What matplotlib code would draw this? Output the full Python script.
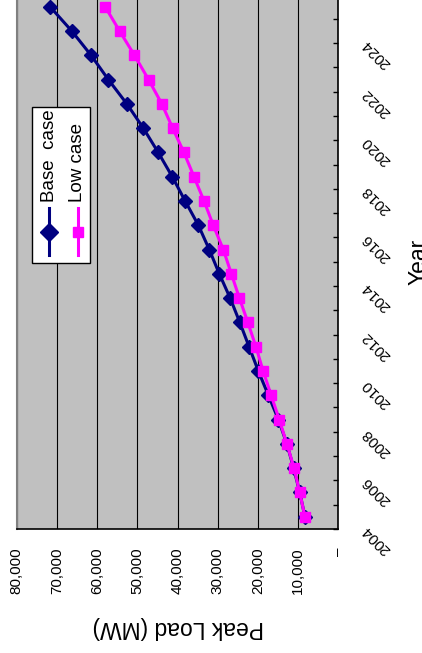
import matplotlib
matplotlib.use("Agg")
import matplotlib.pyplot as plt
import numpy as np
from matplotlib.patches import Rectangle
from matplotlib.lines import Line2D
from matplotlib.transforms import ScaledTranslation, blended_transform_factory

plt.rcParams['font.family'] = ['Liberation Sans', 'DejaVu Sans']

# Peak load forecast (MW)
years = list(range(2004, 2026))
base_case = [8300, 9600, 11100, 12800, 14900, 17400, 19900, 22200, 24500, 26900, 29600,
             32100, 34800, 38100, 41300, 44800, 48500, 52600, 57200, 61500, 66300, 71700]
low_case = [8300, 9600, 11000, 12800, 14700, 16700, 18700, 20500, 22500, 24600, 26600,
            28600, 31100, 33400, 35900, 38400, 41200, 43900, 47200, 50700, 54400, 58000]
load_ticks = [0, 10000, 20000, 30000, 40000, 50000, 60000, 70000, 80000]
year_labels = years[::2]

W, H = 422, 653
NAVY = "#000080"
MAGENTA = "#FF00FF"


def px(x, y):
    # pixel position (origin top-left) -> figure fraction
    return x / W, 1 - y / H


fig = plt.figure(figsize=(W / 100, H / 100), dpi=100)
fig.patch.set_facecolor("white")

# chart is laid out sideways: load runs right-to-left, years bottom-to-top
ax = fig.add_axes([16.7 / W, (H - 528.8) / H, (338.3 - 16.7) / W, (528.8 + 5.4) / H])
ax.set_facecolor("#C0C0C0")
ax.set_xlim(80000, 0)
ax.set_ylim(2003.5, 2025.5)

ax.plot(base_case, years, color=NAVY, lw=2.2, marker="D", ms=7.5,
        markerfacecolor=NAVY, markeredgecolor=NAVY, zorder=3)
ax.plot(low_case, years, color=MAGENTA, lw=2.2, marker="s", ms=6.7,
        markerfacecolor=MAGENTA, markeredgecolor=MAGENTA, zorder=4)

# value axis
ax.set_xticks(load_ticks)
ax.set_xticklabels(["\u2013" if v == 0 else f"{v:,}" for v in load_ticks], rotation=90, fontsize=11)
ax.tick_params(axis="x", length=0, pad=13.7)
ax.grid(axis="x", color="black", lw=0.8, zorder=1)

# category axis: tick marks between years on the right edge
ax.set_yticks(np.arange(2003.5, 2026, 1.0))
ax.tick_params(axis="y", left=False, right=True, direction="in", length=3.6, width=1,
               labelleft=False, labelright=False, color="black")

trans = blended_transform_factory(ax.transAxes, ax.transData) + \
    ScaledTranslation(0.377, -0.23, fig.dpi_scale_trans)
for yr in year_labels:
    ax.text(1, yr, str(yr), transform=trans, rotation=135, rotation_mode="anchor",
            ha="center", va="center", fontsize=11, clip_on=False)

for side in ["top"]:
    ax.spines[side].set_visible(False)
ax.spines["left"].set_color("#808080")
ax.spines["left"].set_linewidth(1.5)
ax.spines["right"].set_color("black")
ax.spines["right"].set_linewidth(1.2)
ax.spines["bottom"].set_color("black")
ax.spines["bottom"].set_linewidth(1.2)

# axis titles
fig.text(*px(178, 627), "Peak Load (MW)", rotation=180, ha="center", va="center", fontsize=16.5)
fig.text(*px(426, 262), "Year", rotation=90, rotation_mode="anchor",
         ha="center", va="baseline", fontsize=16.5)

# legend box
x0, y1 = px(31.7, 263)
x1, y0 = px(90, 106.7)
fig.patches.append(Rectangle((x0, y1), x1 - x0, y0 - y1, transform=fig.transFigure,
                             facecolor="white", edgecolor="black", lw=1, zorder=5))
for xc, label, color, marker, ms in [(49, "Base  case", NAVY, "D", 9.5),
                                      (78, "Low case", MAGENTA, "s", 7.2)]:
    lx, ly_top = px(xc, 208)
    _, ly_bot = px(xc, 255)
    _, ly_mid = px(xc, 232)
    fig.lines.append(Line2D([lx, lx], [ly_bot, ly_top], transform=fig.transFigure,
                            color=color, lw=2.2, zorder=6))
    fig.lines.append(Line2D([lx], [ly_mid], transform=fig.transFigure, marker=marker,
                            ms=ms, color=color, zorder=7))
    tx, ty = px(xc, 202)
    fig.text(tx, ty, label, rotation=90, rotation_mode="anchor", ha="left", va="center",
             fontsize=13.5, zorder=7)

fig.savefig("out.png", dpi=100)
